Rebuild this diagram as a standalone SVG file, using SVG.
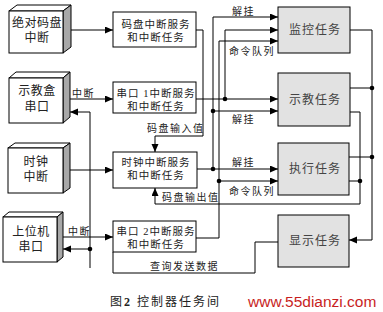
<svg xmlns="http://www.w3.org/2000/svg" width="383" height="312" viewBox="0 0 383 312">
<style>
.bx{fill:#fff;stroke:#000;stroke-width:1}
.sd{fill:#a8a8a8;stroke:#000;stroke-width:1}
.mb{fill:#fff;stroke:#000;stroke-width:1}
.tb{fill:#e2e2e2;stroke:#000;stroke-width:1}
.c{fill:none;stroke:#000;stroke-width:1}
.t{font-family:"Liberation Serif","Noto Sans CJK SC",serif;fill:#222}
.lt{font-size:12px;letter-spacing:0.5px;text-anchor:middle}
.mt{font-size:10.5px;letter-spacing:1px;text-anchor:middle}
.tt{font-size:12px;letter-spacing:1px;text-anchor:middle;fill:#444}
.lb{font-size:10px;letter-spacing:1.5px}
.d{fill:#000}
</style>
<defs>
<marker id="a" markerUnits="userSpaceOnUse" markerWidth="9" markerHeight="8" refX="8" refY="3.5" orient="auto">
<path d="M0,0 L8,3.5 L0,7 z" fill="#000"/>
</marker>
</defs>
<g id="n-abs">
<polygon class="bx" points="9,11 17,5 71,5 63,11"/>
<polygon class="sd" points="63,11 71,5 71,47 63,53"/>
<rect class="bx" x="9" y="11" width="54" height="42"/>
<text class="t lt" x="37" y="27">绝对码盘</text>
<text class="t lt" x="37" y="42">中断</text>
</g>
<g id="n-teach">
<polygon class="bx" points="9,78 16,72 70,72 63,78"/>
<polygon class="sd" points="63,78 70,72 70,117 63,123"/>
<rect class="bx" x="9" y="78" width="54" height="45"/>
<text class="t lt" x="37" y="95">示教盒</text>
<text class="t lt" x="37" y="111">串口</text>
</g>
<g id="n-clock">
<polygon class="bx" points="8,148 15,143 70,143 63,148"/>
<polygon class="sd" points="63,148 70,143 70,188 63,193"/>
<rect class="bx" x="8" y="148" width="55" height="45"/>
<text class="t lt" x="36" y="166">时钟</text>
<text class="t lt" x="36" y="181">中断</text>
</g>
<g id="n-host">
<polygon class="bx" points="3,217 9,212 63,212 57,217"/>
<polygon class="sd" points="57,217 63,212 63,257 57,262"/>
<rect class="bx" x="3" y="217" width="54" height="45"/>
<text class="t lt" x="31" y="236">上位机</text>
<text class="t lt" x="31" y="251">串口</text>
</g>
<g id="n-m1">
<rect class="mb" x="113" y="12" width="83" height="35"/>
<text class="t mt" x="156" y="28">码盘中断服务</text>
<text class="t mt" x="156" y="41">和中断任务</text>
</g>
<g id="n-m2">
<rect class="mb" x="113" y="82" width="83" height="31"/>
<text class="t mt" x="156" y="97" letter-spacing="0.5">串口 1中断服务</text>
<text class="t mt" x="156" y="110">和中断任务</text>
</g>
<g id="n-m3">
<rect class="mb" x="113" y="152" width="84" height="36"/>
<text class="t mt" x="156" y="166">时钟中断服务</text>
<text class="t mt" x="156" y="179">和中断任务</text>
</g>
<g id="n-m4">
<rect class="mb" x="113" y="221" width="83" height="31"/>
<text class="t mt" x="156" y="235" letter-spacing="0.5">串口 2中断服务</text>
<text class="t mt" x="156" y="248">和中断任务</text>
</g>
<g id="n-t1">
<rect class="tb" x="278" y="7" width="72" height="46"/>
<text class="t tt" x="315" y="34">监控任务</text>
</g>
<g id="n-t2">
<rect class="tb" x="278" y="73" width="72" height="53"/>
<text class="t tt" x="315" y="104">示教任务</text>
</g>
<g id="n-t3">
<rect class="tb" x="278" y="143" width="71" height="52"/>
<text class="t tt" x="315" y="173">执行任务</text>
</g>
<g id="n-t4">
<rect class="tb" x="278" y="215" width="71" height="52"/>
<text class="t tt" x="315" y="245">显示任务</text>
</g>
<g id="connectors">
<path class="c" d="M71,30 H113" marker-end="url(#a)"/>
<path class="c" d="M70,99 H113" marker-end="url(#a)"/>
<path class="c" d="M90,268 V112 H70" marker-end="url(#a)"/>
<path class="c" d="M70,170 H113" marker-end="url(#a)"/>
<path class="c" d="M63,237 H113" marker-end="url(#a)"/>
<path class="c" d="M90,249 H63" marker-end="url(#a)"/>
<path class="c" d="M196,30 H203 V136 H155 V152" marker-end="url(#a)"/>
<path class="c" d="M196,99 H278" marker-end="url(#a)"/>
<path class="c" d="M225,99 V30 H278" marker-end="url(#a)"/>
<path class="c" d="M197,169 H278" marker-end="url(#a)"/>
<path class="c" d="M213,169 V17 H278" marker-end="url(#a)"/>
<path class="c" d="M213,111 H278" marker-end="url(#a)"/>
<path class="c" d="M196,238 H219 V41 H278" marker-end="url(#a)"/>
<path class="c" d="M219,181 H278" marker-end="url(#a)"/>
<path class="c" d="M350,30 H372 V240 H349" marker-end="url(#a)"/>
<path class="c" d="M350,88 H372"/>
<path class="c" d="M349,157 H372"/>
<path class="c" d="M350,112 H360 V204 H155 V188" marker-end="url(#a)"/>
<path class="c" d="M349,181 H360"/>
<path class="c" d="M278,242 H255 V273 H113 V252"/>
<circle class="d" cx="225" cy="99" r="2.3"/>
<circle class="d" cx="213" cy="111" r="2.3"/>
<circle class="d" cx="213" cy="169" r="2.3"/>
<circle class="d" cx="219" cy="181" r="2.3"/>
<circle class="d" cx="372" cy="88" r="2.3"/>
<circle class="d" cx="372" cy="157" r="2.3"/>
<circle class="d" cx="360" cy="181" r="2.3"/>
<circle class="d" cx="90" cy="249" r="2.3"/>
<text class="t lb" x="72" y="97">中断</text>
<text class="t lb" x="68" y="235">中断</text>
<text class="t lb" x="147" y="132">码盘输入值</text>
<text class="t lb" x="232" y="15">解挂</text>
<text class="t lb" x="229" y="55">命令队列</text>
<text class="t lb" x="232" y="123">解挂</text>
<text class="t lb" x="232" y="166">解挂</text>
<text class="t lb" x="229" y="195">命令队列</text>
<text class="t lb" x="162" y="201">码盘输出值</text>
<text class="t lb" x="150" y="270">查询发送数据</text>
</g>
<text class="t" x="110" y="306" font-size="12" fill="#444" letter-spacing="2">图<tspan font-weight="bold">2</tspan> 控制器任务间</text>
<text x="248" y="307" font-family="Liberation Sans, Arial, sans-serif" font-size="15.5" fill="#c81e1e">www.55dianzi.com</text>
</svg>
